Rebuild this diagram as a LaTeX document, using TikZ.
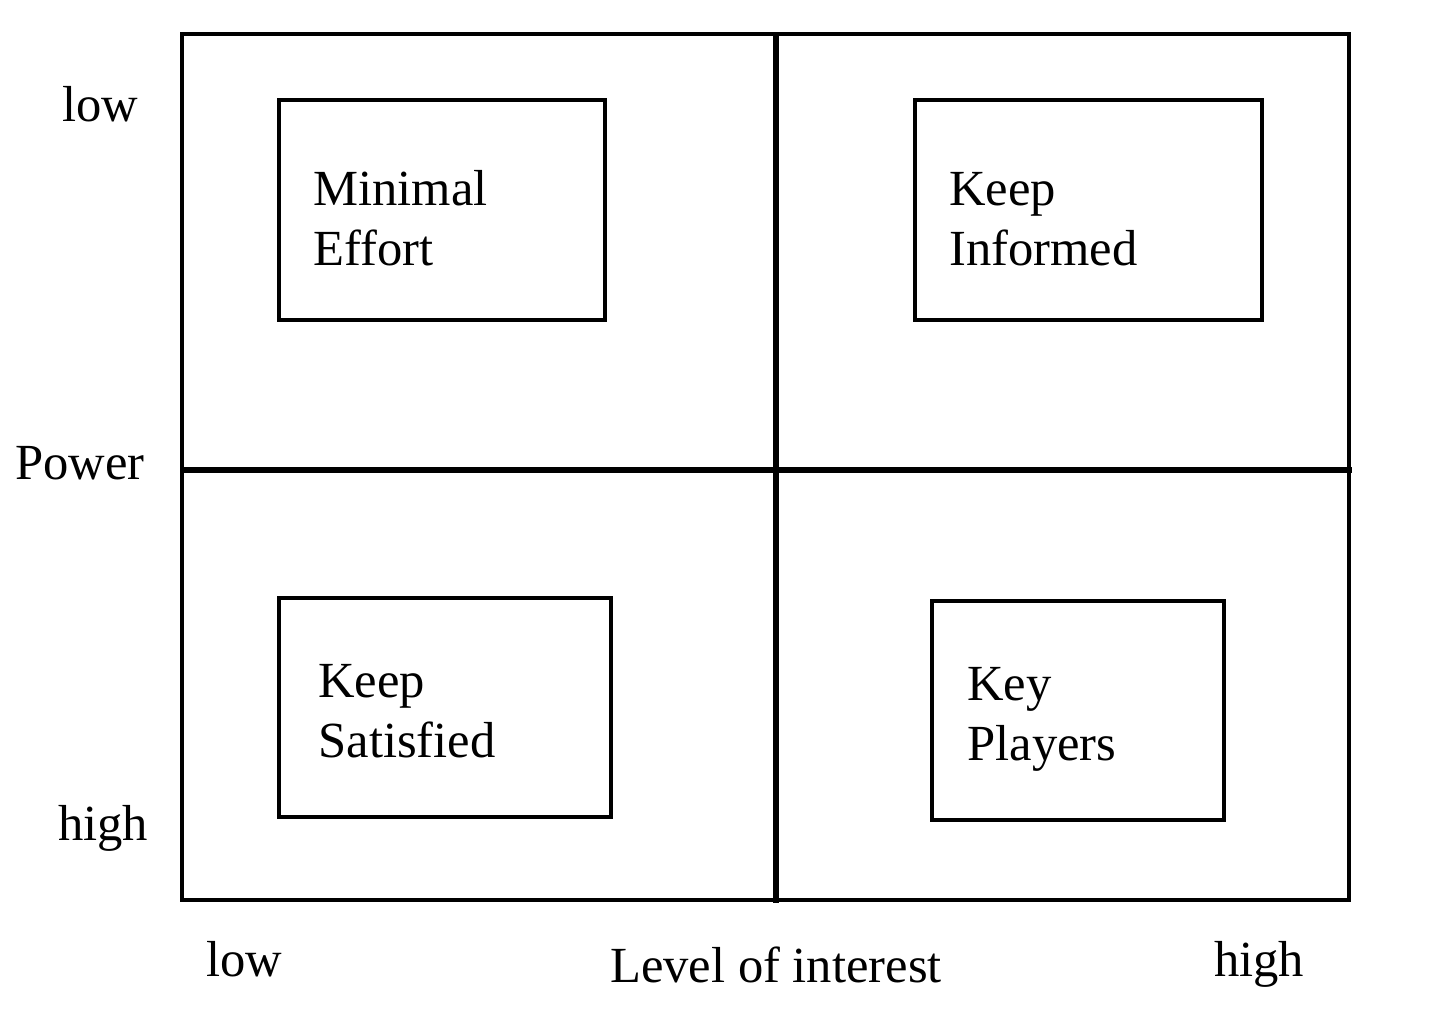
\documentclass[tikz,border=0pt]{standalone}
\usepackage{fontspec}
\setmainfont{Liberation Serif}
\begin{document}
\begin{tikzpicture}[x=0.5pt,y=-0.5pt,
  box/.style={draw,line width=1.6pt},
  lbl/.style={font=\fontsize{25.3}{30}\selectfont,inner sep=0pt},
  blk/.style={font=\fontsize{25.3}{30}\selectfont,inner sep=0pt,anchor=base west,align=left}]
\useasboundingbox (0,0) rectangle (1440,1013);
\draw[line width=1.8pt] (182,34) rectangle (1349,900);
\draw[line width=2.8pt] (776,34) -- (776,903);
\draw[line width=2.8pt] (182,470) -- (1352,470);
\node[box,minimum width=163pt,minimum height=110pt] (me) at (442,210) {};
\node[box,minimum width=173.5pt,minimum height=110pt] (ki) at (1088.5,210) {};
\node[box,minimum width=166pt,minimum height=109.5pt] (ks) at (445,707.5) {};
\node[box,minimum width=146pt,minimum height=109.5pt] (kp) at (1078,710.5) {};
\node[blk] (tme) at (313,265) {Minimal\\Effort};
\node[blk] (tki) at (949,265) {Keep\\Informed};
\node[blk] (tks) at (318,757) {Keep\\Satisfied};
\node[blk] (tkp) at (967,760) {Key\\Players};
\node[lbl,anchor=base] (l1) at (100,121) {low};
\node[lbl,anchor=base] (l2) at (80,479) {Power};
\node[lbl,anchor=base] (l3) at (103,840) {high};
\node[lbl,anchor=base] (l4) at (244,976) {low};
\node[lbl,anchor=base] (l5) at (776,982) {Level of interest};
\node[lbl,anchor=base] (l6) at (1259,976) {high};
\end{tikzpicture}
\end{document}
